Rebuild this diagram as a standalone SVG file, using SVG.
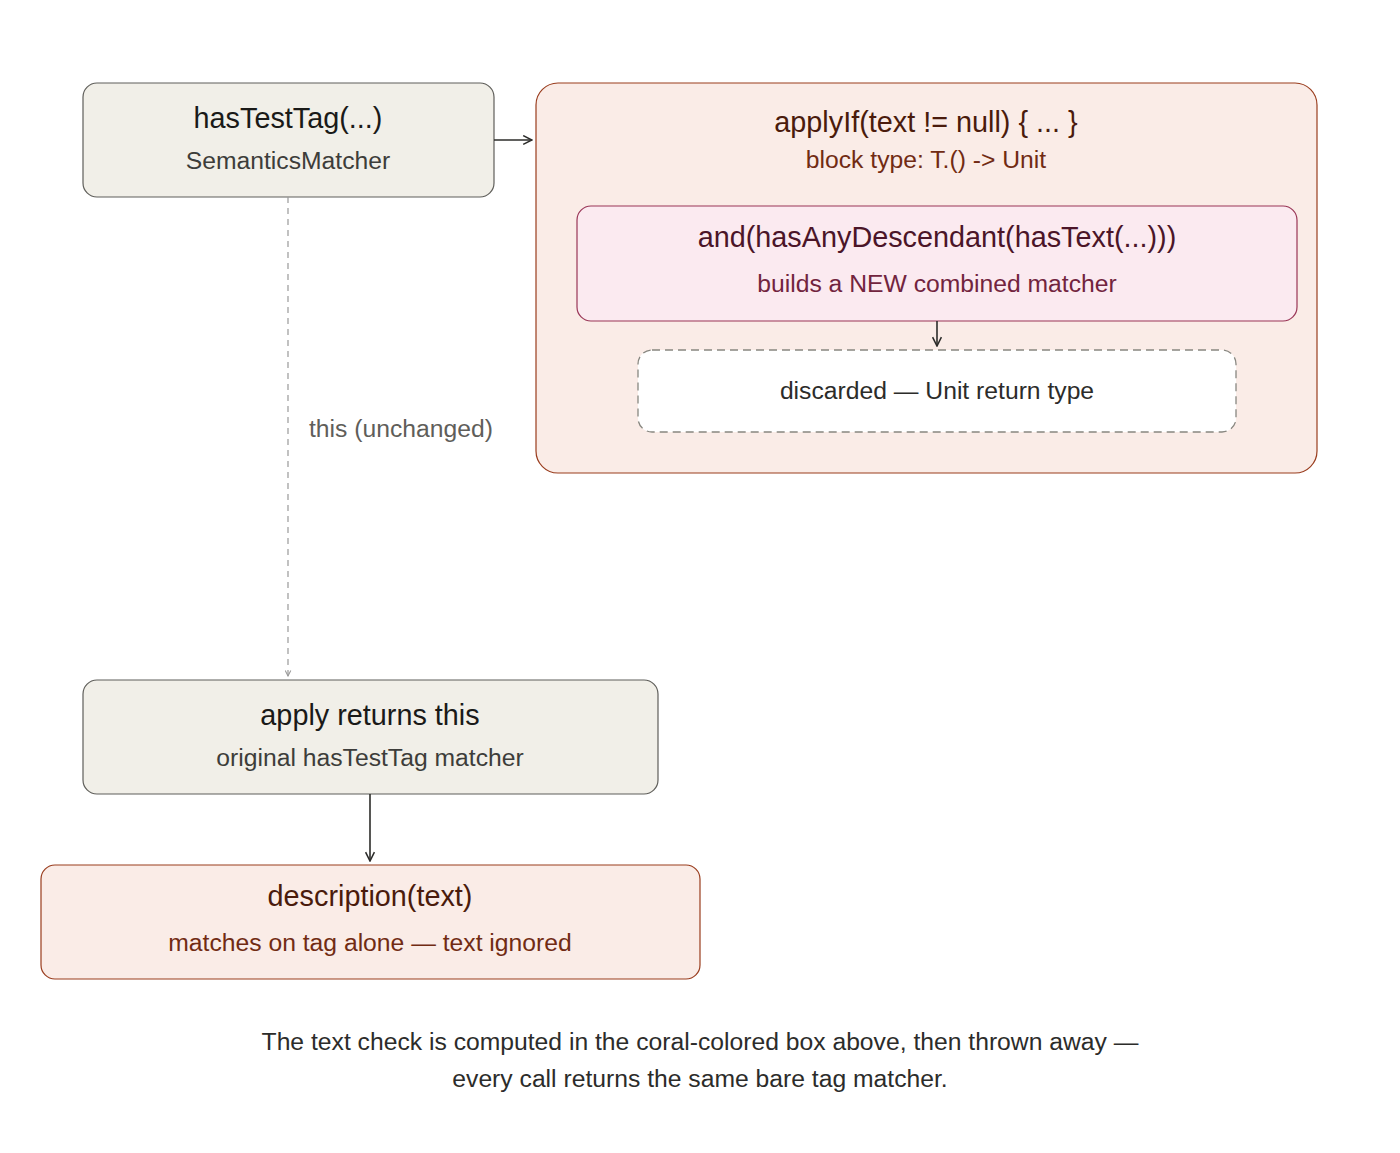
<svg xmlns="http://www.w3.org/2000/svg" width="1400" height="1153" viewBox="0 0 1400 1153">
<defs>
<style>
text{font-family:"Liberation Sans",Arial,sans-serif;text-anchor:middle}
.t{font-size:28.8px}
.s{font-size:24.7px}
.gray rect{fill:#f1efe8;stroke:#5f5e5a;stroke-width:1.2}
.gray .t{fill:#1a1a18}
.gray .s{fill:#3d3d3a}
.coral rect{fill:#faece7;stroke:#993c1d;stroke-width:1.2}
.coral .t{fill:#4a1b0c}
.coral .s{fill:#712b13}
.pink rect{fill:#fbeaf0;stroke:#993556;stroke-width:1.2}
.pink .t{fill:#4b1528}
.pink .s{fill:#72243e}
.conn{stroke:#2c2c2a;stroke-width:1.6;fill:none}
</style>
<marker id="ah" viewBox="0 0 10 10" refX="9" refY="5" markerWidth="11" markerHeight="11" orient="auto" markerUnits="userSpaceOnUse">
<path d="M1 1L9 5L1 9" fill="none" stroke="#2c2c2a" stroke-width="1.4"/>
</marker>
<marker id="ahg" viewBox="0 0 10 10" refX="9" refY="5" markerWidth="7" markerHeight="7" orient="auto" markerUnits="userSpaceOnUse">
<path d="M1 1L9 5L1 9" fill="none" stroke="#999" stroke-width="1.5"/>
</marker>
</defs>
<rect width="1400" height="1153" fill="#fff"/>

<g id="applyIf" class="coral">
<rect x="536" y="83" width="781" height="390" rx="22"/>
<text class="t" x="926" y="132">applyIf(text != null) { ... }</text>
<text class="s" x="926" y="168">block type: T.() -&gt; Unit</text>
</g>

<g id="and" class="pink">
<rect x="577" y="206" width="720" height="115" rx="14"/>
<text class="t" x="937" y="247">and(hasAnyDescendant(hasText(...)))</text>
<text class="s" x="937" y="292">builds a NEW combined matcher</text>
</g>

<g id="discarded">
<rect x="638" y="350" width="598" height="82" rx="14" fill="#fff" stroke="#888780" stroke-width="1.3" stroke-dasharray="8 5"/>
<text class="s" x="937" y="399" fill="#2c2c2a">discarded — Unit return type</text>
</g>

<g id="hasTestTag" class="gray">
<rect x="83" y="83" width="411" height="114" rx="14"/>
<text class="t" x="288" y="128">hasTestTag(...)</text>
<text class="s" x="288" y="169">SemanticsMatcher</text>
</g>

<g id="applyReturns" class="gray">
<rect x="83" y="680" width="575" height="114" rx="14"/>
<text class="t" x="370" y="725">apply returns this</text>
<text class="s" x="370" y="766">original hasTestTag matcher</text>
</g>

<g id="description" class="coral">
<rect x="41" y="865" width="659" height="114" rx="14"/>
<text class="t" x="370" y="906">description(text)</text>
<text class="s" x="370" y="951">matches on tag alone — text ignored</text>
</g>

<g id="connectors">
<line class="conn" x1="494" y1="140" x2="532" y2="140" marker-end="url(#ah)"/>
<line class="conn" x1="937" y1="321" x2="937" y2="346" marker-end="url(#ah)"/>
<line class="conn" x1="370" y1="794" x2="370" y2="861" marker-end="url(#ah)"/>
<line x1="288" y1="197" x2="288" y2="676" stroke="#999" stroke-width="1.2" stroke-dasharray="6 5" fill="none" marker-end="url(#ahg)"/>
<text x="309" y="437" style="text-anchor:start;font-size:24.7px" fill="#5f5e5a">this (unchanged)</text>
</g>

<g id="caption">
<text x="700" y="1050" style="font-size:24.7px" fill="#2c2c2a">The text check is computed in the coral-colored box above, then thrown away —</text>
<text x="700" y="1087" style="font-size:24.7px" fill="#2c2c2a">every call returns the same bare tag matcher.</text>
</g>
</svg>
